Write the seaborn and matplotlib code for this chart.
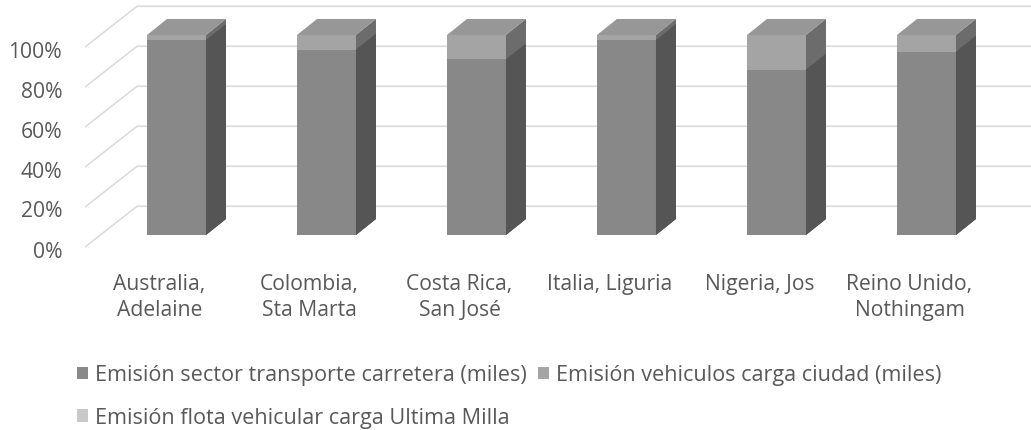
import numpy as np
import pandas as pd
import seaborn as sns
import matplotlib.pyplot as plt
from matplotlib.patches import Polygon, Patch

# Share of each emission source per city (percent of the stacked total)
categories = ["Australia,\nAdelaine", "Colombia,\nSta Marta", "Costa Rica,\nSan José",
              "Italia, Liguria", "Nigeria, Jos", "Reino Unido,\nNothingam"]
carretera = [97.5, 92.7, 87.8, 97.5, 82.7, 91.7]
ciudad = [2.4, 7.2, 12.1, 2.4, 17.2, 8.2]
ultima_milla = [0.1, 0.1, 0.1, 0.1, 0.1, 0.1]
series_names = ["Emisión sector transporte carretera (miles)",
                "Emisión vehiculos carga ciudad (miles)",
                "Emisión flota vehicular carga Ultima Milla"]
y_ticks = [0, 20, 40, 60, 80, 100]

front_colors = ["#888888", "#a4a4a4", "#c8c8c8"]
side_colors = ["#555555", "#6c6c6c", "#8a8a8a"]
top_color = "#979797"
legend_colors = ["#898989", "#a5a5a5", "#c9c9c9"]
text_color = "#595959"
grid_color = "#d9d9d9"
fs = 15.2
fs_legend = 15.6

sns.set_theme(style="white")
plt.rcParams["font.family"] = ["Open Sans", "DejaVu Sans"]

df = pd.DataFrame({"city": categories, "s1": carretera, "s2": ciudad, "s3": ultima_milla})
df["c1"] = df["s1"]
df["c2"] = df["s1"] + df["s2"]
df["c3"] = df["s1"] + df["s2"] + df["s3"]

fig = plt.figure(figsize=(10.31, 4.31), dpi=100)
ax = fig.add_axes([0, 0, 1, 1])

bar_w = 0.393
# oblique depth of the bars and of the chart walls (data units)
bar_dx, bar_dy = 0.133, 8.0
wall_front_dy = -6.0
wall_back_dx, wall_back_dy = -0.2633, 14.35
wall_front_x = -0.61

# cumulative layers: tallest first, each later one covers the lower part
layers = [("c3", 2), ("c2", 1), ("c1", 0)]
for col, si in layers:
    n_before = len(ax.patches)
    sns.barplot(data=df, x="city", y=col, order=categories, color=front_colors[si],
                saturation=1, width=bar_w, errorbar=None, ax=ax, zorder=3 + (2 - si))
    for p in ax.patches[n_before:]:
        p.set_facecolor(front_colors[si])
        p.set_edgecolor("none")
        x0, w, h = p.get_x(), p.get_width(), p.get_height()
        x1 = x0 + w
        side = Polygon([(x1, 0), (x1 + bar_dx, bar_dy), (x1 + bar_dx, h + bar_dy), (x1, h)],
                       closed=True, facecolor=side_colors[si], edgecolor="none",
                       zorder=3 + (2 - si))
        ax.add_patch(side)
        if si == 2:
            top = Polygon([(x0, h), (x0 + bar_dx, h + bar_dy), (x1 + bar_dx, h + bar_dy), (x1, h)],
                          closed=True, facecolor=top_color, edgecolor="none", zorder=6)
            ax.add_patch(top)

# back wall gridlines with the oblique segment on the left wall
for v in y_ticks:
    ax.plot([wall_front_x, wall_back_dx, 6.0], [v + wall_front_dy, v + wall_back_dy, v + wall_back_dy],
            color=grid_color, lw=1.1, zorder=1, solid_capstyle="butt")
    ax.text(-0.763, v + wall_front_dy - 2, f"{v}%", ha="right", va="center",
            fontsize=fs, color=text_color)

# category labels
for i, name in enumerate(categories):
    ax.text(i - 0.113, -19.0, name, ha="center", va="top", fontsize=fs,
            color=text_color, linespacing=1.3, multialignment="center")

ax.set_xlim(-176.5 / 150, (1031 - 176.5) / 150)
ax.set_ylim(-97.5, 118)
ax.axis("off")

# legend filled row by row: first column holds entries 1 and 3
order = [0, 2, 1]
handles = [Patch(facecolor=legend_colors[k], edgecolor="none") for k in order]
labels = [series_names[k] for k in order]
leg = fig.legend(handles, labels, loc="upper left", bbox_to_anchor=(0.075, 0.152),
                 bbox_transform=fig.transFigure, ncol=2, frameon=False, fontsize=fs_legend,
                 labelcolor=text_color, handlelength=0.5, handleheight=0.5,
                 handletextpad=0.33, columnspacing=0.5, labelspacing=1.0,
                 borderpad=0, borderaxespad=0)

fig.savefig("out.png", dpi=100)
